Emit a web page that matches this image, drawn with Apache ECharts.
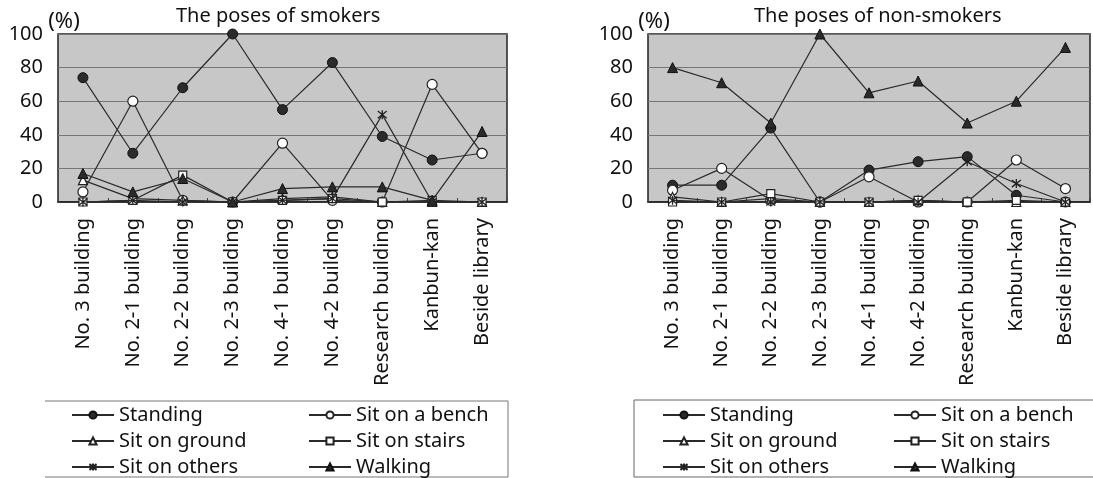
<!DOCTYPE html>
<html>
<head>
<meta charset="utf-8">
<script src="https://cdn.jsdelivr.net/npm/echarts@6/dist/echarts.min.js"></script>
<style>html,body{margin:0;padding:0;background:#fff;}#c{width:1093px;height:478px;}</style>
</head>
<body>
<div id="c"></div>
<script>
const categories = ['No. 3 building','No. 2-1 building','No. 2-2 building','No. 2-3 building','No. 4-1 building','No. 4-2 building','Research building','Kanbun-kan','Beside library'];
const yTicks = [0, 20, 40, 60, 80, 100];
const titles = ['The poses of smokers', 'The poses of non-smokers'];
const seriesNames = ['Standing', 'Sit on a bench', 'Sit on ground', 'Sit on stairs', 'Sit on others', 'Walking'];

// Smokers
const standingS = [74, 29, 68, 100, 55, 83, 39, 25, 29];
const benchS    = [6, 60, 1, 0, 35, 1, 0, 70, 29];
const groundS   = [13, 2, 1, 0, 2, 3, 0, 0, 0];
const stairsS   = [0, 1, 16, 0, 1, 2, 0, 1, 0];
const othersS   = [0, 1, 0, 0, 1, 2, 52, 0, 0];
const walkingS  = [17, 6, 14, 0, 8, 9, 9, 1, 42];

// Non-smokers
const standingN = [10, 10, 44, 0, 19, 24, 27, 4, 0];
const benchN    = [7, 20, 1, 0, 15, 0, 0, 25, 8];
const groundN   = [3, 0, 2, 0, 0, 1, 0, 0, 0];
const stairsN   = [0, 0, 5, 0, 0, 1, 0, 1, 0];
const othersN   = [1, 0, 0, 0, 0, 0, 24, 11, 0];
const walkingN  = [80, 71, 47, 100, 65, 72, 47, 60, 92];

const FONT = 'Noto Sans';
const LINE = '#2a2a2a';
const asterisk = 'path://M5,0L5,10M1,1L9,9M9,1L1,9';

const styles = [
  {symbol: 'circle', symbolSize: 10, itemStyle: {color: '#2b2b2b', borderColor: '#111', borderWidth: 1}},
  {symbol: 'circle', symbolSize: 10, itemStyle: {color: '#fff', borderColor: '#222', borderWidth: 1.2}},
  {symbol: 'triangle', symbolSize: 9, itemStyle: {color: '#fff', borderColor: '#222', borderWidth: 1.2}},
  {symbol: 'rect', symbolSize: 8, itemStyle: {color: '#fff', borderColor: '#222', borderWidth: 1.2}},
  {symbol: asterisk, symbolSize: 9, itemStyle: {color: '#fff', borderColor: '#222', borderWidth: 1.3}},
  {symbol: 'triangle', symbolSize: 10, itemStyle: {color: '#2b2b2b', borderColor: '#111', borderWidth: 1}}
];

const smokerData = [standingS, benchS, groundS, stairsS, othersS, walkingS];
const nonSmokerData = [standingN, benchN, groundN, stairsN, othersN, walkingN];

function makeSeries(dataSets, idx) {
  return dataSets.map((d, i) => Object.assign({
    type: 'line',
    name: seriesNames[i],
    xAxisIndex: idx,
    yAxisIndex: idx,
    data: d,
    lineStyle: {color: LINE, width: 1.2},
    showAllSymbol: true,
    animation: false,
    z: 2 + i
  }, styles[i]));
}

function makeX(idx) {
  return {
    type: 'category', gridIndex: idx, data: categories, boundaryGap: true,
    axisLine: {show: true, lineStyle: {color: '#222', width: 1.5}},
    axisTick: {show: true, inside: true, length: 4, lineStyle: {color: '#444'}},
    axisLabel: {rotate: 90, interval: 0, margin: 16, fontSize: 20, fontFamily: FONT, color: '#111'}
  };
}
function makeY(idx) {
  return {
    type: 'value', gridIndex: idx, min: yTicks[0], max: yTicks[yTicks.length - 1], interval: 20,
    name: '(%)', nameLocation: 'end', nameGap: 1,
    nameTextStyle: {fontSize: 22, fontFamily: FONT, color: '#111', align: 'center', padding: [0, 0, 0, 12]},
    axisLine: {show: false}, axisTick: {show: false},
    axisLabel: {margin: 15, fontSize: 20, fontFamily: FONT, color: '#111'},
    splitLine: {show: true, lineStyle: {color: '#767676', width: 1}}
  };
}

function legendCol(names, left) {
  return {
    orient: 'vertical', left: left, top: 405, height: 120, data: names,
    itemWidth: 42, itemHeight: 9, itemGap: 6, selectedMode: false, padding: 0,
    textStyle: {fontSize: 20, fontFamily: FONT, color: '#111', lineHeight: 20}
  };
}

const chart = echarts.init(document.getElementById('c'), null, {renderer: 'canvas'});
chart.setOption({
  animation: false,
  backgroundColor: '#fff',
  title: [
    {text: titles[0], left: 176, top: 6, padding: 0, textStyle: {fontSize: 20, fontWeight: 'normal', fontFamily: FONT, color: '#111'}},
    {text: titles[1], left: 754, top: 6, padding: 0, textStyle: {fontSize: 20, fontWeight: 'normal', fontFamily: FONT, color: '#111'}}
  ],
  grid: [
    {left: 58, top: 34, width: 449, height: 168, show: true, backgroundColor: '#c7c7c7', borderColor: '#222', borderWidth: 1.5},
    {left: 648, top: 34, width: 442, height: 168, show: true, backgroundColor: '#c7c7c7', borderColor: '#222', borderWidth: 1.5}
  ],
  xAxis: [makeX(0), makeX(1)],
  yAxis: [makeY(0), makeY(1)],
  legend: [
    legendCol([seriesNames[0], seriesNames[2], seriesNames[4]], 71),
    legendCol([seriesNames[1], seriesNames[3], seriesNames[5]], 308),
    legendCol([seriesNames[0], seriesNames[2], seriesNames[4]], 662),
    legendCol([seriesNames[1], seriesNames[3], seriesNames[5]], 893)
  ],
  graphic: [
    {type: 'polyline', shape: {points: [[45, 401], [508, 401], [508, 477], [45, 477]]}, style: {stroke: '#777', lineWidth: 1, fill: null}},
    {type: 'polyline', shape: {points: [[1093, 400], [634, 400], [634, 477], [1093, 477]]}, style: {stroke: '#666', lineWidth: 1, fill: null}}
  ],
  series: makeSeries(smokerData, 0).concat(makeSeries(nonSmokerData, 1))
});
</script>
</body>
</html>
